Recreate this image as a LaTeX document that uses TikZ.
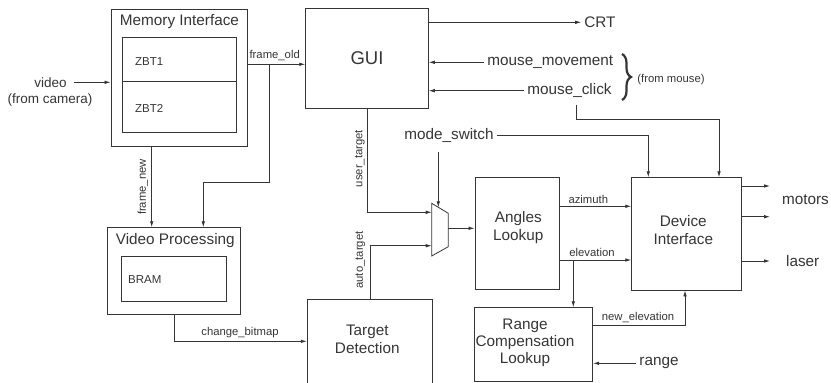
\documentclass[tikz,border=0pt]{standalone}
\usepackage{fontspec}
\setmainfont{Liberation Sans}
\usetikzlibrary{arrows.meta,decorations.pathreplacing}
\definecolor{ln}{HTML}{353535}
\begin{document}
\begin{tikzpicture}[x=1pt,y=-1pt,
  every node/.style={text=ln, inner sep=3pt},
  box/.style={draw=ln, line width=0.9pt, inner sep=0pt},
  wire/.style={draw=ln, line width=0.8pt},
  arr/.style={wire, -{Latex[length=6pt,width=3.6pt]}},
  big/.style={font=\fontsize{15.3}{18.5}\selectfont},
  huge/.style={font=\fontsize{18.5}{21}\selectfont},
  mid/.style={font=\fontsize{11.5}{13}\selectfont},
  lab/.style={font=\fontsize{13.5}{16}\selectfont},
  small/.style={font=\fontsize{11.3}{13}\selectfont},
  multi/.style={big, align=center, inner sep=0pt}
]
\useasboundingbox (0,0) rectangle (831,383);
\clip (0,0) rectangle (831,383);

% ---------- Memory Interface ----------
\node[box, minimum width=136pt, minimum height=136.7pt] (mi) at (179,77.7) {};
\node[big] (mititle) at (179.5,21.7) {Memory Interface};
\node[box, minimum width=114pt, minimum height=95pt] (zbt) at (179,85.2) {};
\draw[wire] (zbt.west |- 0,81.7) -- (zbt.east |- 0,81.7);
\node[mid, anchor=west, inner sep=0pt] (z1) at (135,61.7) {ZBT1};
\node[mid, anchor=west, inner sep=0pt] (z2) at (135,108) {ZBT2};

% video input
\node[lab] (video) at (50.5,82.3) {video};
\node[lab] (cam) at (50,100) {(from camera)};
\draw[arr] ([xshift=4pt]video.east) -- (mi.west |- video.east);

% ---------- GUI ----------
\node[box, huge, minimum width=122.6pt, minimum height=100pt] (gui) at (367,58.3) {GUI};

% frame_old
\draw[arr] (mi.east |- 0,64.3) -- (gui.west |- 0,64.3);
\node[small] (fo) at (274.7,55.3) {frame\_old};
\coordinate (fob) at (269.3,64.3);

% ---------- Video Processing ----------
\node[box, minimum width=133.4pt, minimum height=86.3pt] (vp) at (174,270.85) {};
\node[big] (vptitle) at (175.3,240.7) {Video Processing};
\node[box, minimum width=105.7pt, minimum height=45pt] (bram) at (173.85,278.5) {};
\node[mid, anchor=west, inner sep=0pt] (bramt) at (128,279.3) {BRAM};

\draw[arr] (fob) -- (269.3,182.7) -- (203.3,182.7) -- (vp.north -| 203.3,0);
\draw[arr] (mi.south -| 151.7,0) -- (vp.north -| 151.7,0);
\node[small, rotate=90] (fn) at (143,187) {frame\_new};

% ---------- Target Detection ----------
\node[box, minimum width=125.4pt, minimum height=87pt] (td) at (370,342.5) {};
\node[multi] (tdt) at (367.3,339.2) {Target\\Detection};
\draw[arr] (vp.south -| 174,0) -- (174,341.3) -- (td.west |- 0,341.3);
\node[small] (cb) at (240,333) {change\_bitmap};

% ---------- MUX ----------
\coordinate (mtl) at (431.7,203.3);
\coordinate (mtr) at (448.3,213.3);
\coordinate (mbr) at (448.3,246.7);
\coordinate (mbl) at (431.7,256);
\draw[wire] (mtl) -- (mtr) -- (mbr) -- (mbl) -- cycle;
\coordinate (min1) at (431.7,212.3);
\coordinate (min2) at (431.7,245.7);
\coordinate (msel) at (438.3,207.3);
\coordinate (mout) at (448.3,228.3);

\draw[arr] (gui.south -| 367.7,0) -- (367.7,212.3) -- (min1);
\node[small, rotate=90] (ut) at (360,158.5) {user\_target};
\draw[arr] (td.north -| 370,0) -- (370,245.7) -- (min2);
\node[small, rotate=90] (at) at (360.5,260) {auto\_target};

% ---------- Angles Lookup ----------
\node[box, minimum width=84.3pt, minimum height=111.3pt] (al) at (517.15,233.35) {};
\node[multi] (alt) at (518.3,227.5) {Angles\\Lookup};
\draw[arr] (mout) -- (al.west |- mout);

% ---------- Device Interface ----------
\node[box, minimum width=109.3pt, minimum height=112.3pt] (di) at (686.35,233.85) {};
\node[multi] (dit) at (683.3,230) {Device\\Interface};

\draw[arr] (al.east |- 0,206.3) -- (di.west |- 0,206.3);
\node[small] (az) at (588.3,199.3) {azimuth};
\draw[arr] (al.east |- 0,260) -- (di.west |- 0,260);
\node[small] (el) at (592,252.3) {elevation};

% mode_switch
\node[big] (ms) at (449,135.7) {mode\_switch};
\draw[arr] (ms.east) -- (648.3,135.7) -- (di.north -| 648.3,0);
\coordinate (msdrop) at (438.3,151.7);
\draw[arr] (msdrop) -- (msel);

% CRT, mouse
\node[big] (crt) at (600,22.3) {CRT};
\draw[arr] (gui.east |- crt.west) -- (crt.west);
\node[big] (mm) at (550.3,62.3) {mouse\_movement};
\draw[arr] (mm.west) -- (gui.east |- mm.west);
\node[big] (mc) at (569.5,90.7) {mouse\_click};
\draw[arr] (mc.west) -- (gui.east |- mc.west);
\draw[decorate, decoration={brace, amplitude=9pt}, draw=ln, line width=2.2pt] (622,54) -- (622,100);
\node[small] (fm) at (671,80) {(from mouse)};
\coordinate (mcdrop) at (576.7,104.5);
\draw[arr] (mcdrop) -- (576.7,119) -- (719,119) -- (di.north -| 719,0);

% outputs
\coordinate (o1) at (770,186);
\coordinate (o2) at (770,216.7);
\coordinate (o3) at (770,261);
\draw[arr] (di.east |- o1) -- (o1);
\draw[arr] (di.east |- o2) -- (o2);
\draw[arr] (di.east |- o3) -- (o3);
\node[big] (motors) at (805.5,199.3) {motors};
\node[big] (laser) at (802.7,261) {laser};

% ---------- Range Compensation ----------
\node[box, minimum width=118.4pt, minimum height=74pt] (rcl) at (533.5,344.7) {};
\node[big, align=center, inner sep=0pt, font=\fontsize{15.3}{17}\selectfont] (rclt) at (525,343) {Range\\Compensation\\Lookup};
\draw[arr] (573.3,260) -- (rcl.north -| 573.3,0);
\draw[arr] (rcl.east |- 0,325) -- (685,325) -- (di.south -| 685,0);
\node[small] (ne) at (638,317.7) {new\_elevation};
\node[big] (range) at (659,363.3) {range};
\draw[arr] (range.west) -- (rcl.east |- range.west);
\end{tikzpicture}
\end{document}
